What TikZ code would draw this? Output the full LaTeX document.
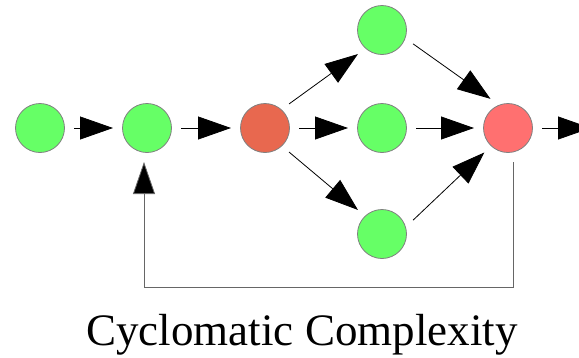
\documentclass[tikz,border=0pt]{standalone}
\usepackage{fontspec}
\setmainfont{Liberation Serif}
\usetikzlibrary{arrows.meta}
\definecolor{okgreen}{HTML}{66FF66}
\definecolor{hotred}{HTML}{E8684F}
\definecolor{joinred}{HTML}{FF7070}
\tikzset{
  block/.style={circle,draw=gray,line width=0.8pt,minimum size=49pt,inner sep=0pt,outer sep=9.5pt,fill=okgreen},
  flow/.style={-{Triangle[length=33pt,width=23pt]},line width=0.8pt},
}
\begin{document}
\begin{tikzpicture}[x=1pt,y=-1pt]
		\useasboundingbox (0,0) rectangle (579,357);
		\node[block] (a) at (40,128) {};
		\node[block] (b) at (147,128) {};
		\node[block,fill=hotred] (c) at (265,128) {};
		\node[block] (d) at (382,30) {};
		\node[block] (e) at (382,128) {};
		\node[block] (f) at (382,234) {};
		\node[block,fill=joinred] (g) at (508,128) {};
		\coordinate (out) at (591,128);
%
		\draw[flow] (a) -- (b);
		\draw[flow] (b) -- (c);
		\draw[flow] (c.45) -- (d.225);
		\draw[flow] (c) -- (e);
		\draw[flow] (c.-45) -- (f.135);
		\draw[flow] (d.-24) -- (g.121);
		\draw[flow] (e) -- (g);
		\draw[flow] (f.24) -- (g.-134);
		\draw[flow] (g) -- (out);
		\draw[flow,draw=black!60,-{Triangle[length=32pt,width=22pt,fill=black]}]
		  ([xshift=5pt]g.south) -- ++(0,125) -| ([xshift=-3pt]b.south);
%
		\node[anchor=base,inner sep=0pt] (title) at (302,345)
		  {\fontsize{45}{50}\selectfont Cyclomatic Complexity};
\end{tikzpicture}
\end{document}
